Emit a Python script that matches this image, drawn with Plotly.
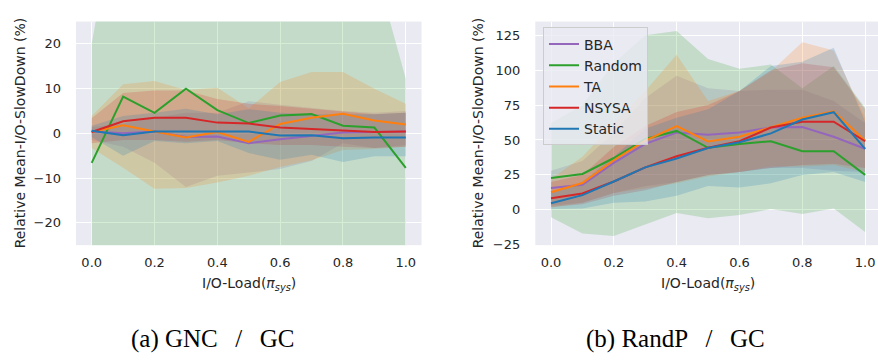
import plotly.graph_objects as go

X = [0.0, 0.1, 0.2, 0.3, 0.4, 0.5, 0.6, 0.7, 0.8, 0.9, 1.0]
SERIES = ["BBA", "Random", "TA", "NSYSA", "Static"]
COLORS = {"BBA": (148, 103, 189), "Random": (44, 160, 44), "TA": (255, 127, 14),
          "NSYSA": (214, 39, 40), "Static": (31, 119, 180)}

# (a) GNC / GC
gnc_bba_mean = [0.4, 0.0, 0.4, -0.8, -0.7, -2.2, -1.3, -0.5, 0.2, 0.3, 0.4]
gnc_bba_lo = [-1.5, -3.0, -6.6, -12.0, -9.5, -8.8, -8.0, -6.2, -2.2, -3.3, -2.6]
gnc_bba_hi = [1.4, 2.1, 3.5, 4.6, 4.6, 7.2, 6.4, 5.7, 5.0, 4.6, 5.0]
gnc_random_mean = [-6.6, 8.2, 4.6, 10.0, 5.2, 2.3, 4.0, 4.3, 1.7, 1.3, -7.7]
gnc_random_lo = [-60, -55, -50, -50, -50, -50, -50, -50, -50, -50, -45]
gnc_random_hi = [20.0, 60, 55, 55, 55, 55, 55, 55, 50, 37.6, 12.2]
gnc_ta_mean = [0.3, 1.8, 0.4, -0.9, 0.3, -1.9, 2.1, 3.5, 4.4, 2.9, 2.0]
gnc_ta_lo = [-3.3, -7.7, -12.4, -12.2, -11.0, -9.5, -7.5, -6.0, -3.7, -3.5, -3.0]
gnc_ta_hi = [3.9, 11.0, 11.7, 9.7, 10.2, 5.6, 11.5, 13.7, 13.7, 10.0, 6.6]
gnc_nsysa_mean = [0.3, 2.7, 3.5, 3.5, 2.4, 2.2, 1.3, 1.0, 0.6, 0.3, 0.4]
gnc_nsysa_lo = [-2.2, -1.5, -1.5, -1.9, -1.5, -2.2, -2.6, -2.6, -3.0, -3.3, -3.0]
gnc_nsysa_hi = [3.4, 9.0, 9.6, 9.6, 7.7, 6.6, 6.1, 5.5, 5.0, 4.3, 4.6]
gnc_static_mean = [0.6, -0.4, 0.4, 0.4, 0.4, 0.4, -0.5, -0.4, -1.1, -0.9, -0.9]
gnc_static_lo = [-0.8, -5.0, -1.7, -2.2, -1.7, -4.4, -5.9, -4.8, -6.4, -5.1, -5.1]
gnc_static_hi = [1.7, 3.9, 4.6, 5.5, 4.3, 5.4, 4.6, 4.3, 4.3, 4.3, 4.6]

# (b) RandP / GC
randp_bba_mean = [15.7, 18.0, 33.6, 47.2, 55.4, 53.7, 55.4, 58.9, 59.3, 52.3, 43.7]
randp_bba_lo = [3, 5, 12, 17, 20, 25, 27, 30, 30, 28, 27]
randp_bba_hi = [28, 35, 55, 80, 96, 87, 85, 86, 86, 78, 62]
randp_random_mean = [22.7, 25.7, 37.1, 50.7, 56.5, 44.4, 47.2, 49.1, 42.0, 42.0, 25.0]
randp_random_lo = [-5.4, -17, -18.7, -10.7, -2.3, -6, -3.7, 0.5, -3, 1, -15.9]
randp_random_hi = [62, 75, 105, 125, 128, 108, 101, 104, 87, 103, 73]
randp_ta_mean = [12.6, 19.2, 35.5, 49.5, 60.0, 49.0, 52.3, 59.3, 65.9, 70.6, 49.5]
randp_ta_lo = [1.6, 5, 12, 15.7, 19, 24, 27, 31, 31, 32, 27]
randp_ta_hi = [22, 38, 62, 85, 111, 78, 85, 99, 120, 114, 66]
randp_nsysa_mean = [8.2, 11.7, 20.3, 30.4, 38.3, 44.4, 49.1, 58.9, 63.1, 63.1, 49.1]
randp_nsysa_lo = [2, 4, 10, 14, 20, 25, 27, 30, 32, 33, 30]
randp_nsysa_hi = [20, 25, 45, 60, 70, 75, 85, 100, 105, 102, 72]
randp_static_mean = [4.7, 10.5, 20.3, 30.4, 36.7, 44.2, 48.4, 54.7, 64.7, 69.9, 43.7]
randp_static_lo = [0.5, 1, 5, 6, 10, 17, 16, 19, 25, 27, 20]
randp_static_hi = [12, 20, 38, 58, 66, 72, 85, 103, 106, 116, 63]

X_TICKS = [0.0, 0.2, 0.4, 0.6, 0.8, 1.0]
GNC_Y_TICKS = [-20, -10, 0, 10, 20]
RANDP_Y_TICKS = [-25, 0, 25, 50, 75, 100, 125]

gnc = {
    "BBA": (gnc_bba_mean, gnc_bba_lo, gnc_bba_hi),
    "Random": (gnc_random_mean, gnc_random_lo, gnc_random_hi),
    "TA": (gnc_ta_mean, gnc_ta_lo, gnc_ta_hi),
    "NSYSA": (gnc_nsysa_mean, gnc_nsysa_lo, gnc_nsysa_hi),
    "Static": (gnc_static_mean, gnc_static_lo, gnc_static_hi),
}
randp = {
    "BBA": (randp_bba_mean, randp_bba_lo, randp_bba_hi),
    "Random": (randp_random_mean, randp_random_lo, randp_random_hi),
    "TA": (randp_ta_mean, randp_ta_lo, randp_ta_hi),
    "NSYSA": (randp_nsysa_mean, randp_nsysa_lo, randp_nsysa_hi),
    "Static": (randp_static_mean, randp_static_lo, randp_static_hi),
}

W, H = 878, 360
TXT = "#262626"
BG = "#EAEAF2"

fig = go.Figure()


def add_panel(data, xa, ya, legend):
    for name in SERIES:
        mean, lo, hi = data[name]
        r, g, b = COLORS[name]
        fig.add_trace(go.Scatter(x=X, y=hi, mode="lines", line=dict(width=0),
                                 xaxis=xa, yaxis=ya, showlegend=False, hoverinfo="skip"))
        fig.add_trace(go.Scatter(x=X, y=lo, mode="lines", line=dict(width=0),
                                 fill="tonexty", fillcolor=f"rgba({r},{g},{b},0.2)",
                                 xaxis=xa, yaxis=ya, showlegend=False, hoverinfo="skip"))
    for name in SERIES:
        mean, lo, hi = data[name]
        r, g, b = COLORS[name]
        fig.add_trace(go.Scatter(x=X, y=mean, mode="lines", name=name, legendgroup=name,
                                 line=dict(color=f"rgb({r},{g},{b})", width=2),
                                 xaxis=xa, yaxis=ya, showlegend=legend))


add_panel(gnc, "x", "y", False)
add_panel(randp, "x2", "y2", True)

axis_common = dict(showgrid=True, gridcolor="white", gridwidth=1, zeroline=False,
                   showline=False, ticks="", ticklabeloverflow="allow",
                   tickfont=dict(family="DejaVu Sans", size=13, color=TXT))

fig.update_layout(
    width=W, height=H, margin=dict(l=0, r=0, t=0, b=0),
    paper_bgcolor="white", plot_bgcolor=BG,
    xaxis=dict(domain=[76 / W, 421.5 / W], range=[-0.05, 1.05], tickvals=X_TICKS,
               ticktext=[f"{v:.1f}" for v in X_TICKS], anchor="y", ticklabelstandoff=8, **axis_common),
    yaxis=dict(domain=[1 - 250 / H, 1 - 22 / H], range=[-25, 25], tickvals=GNC_Y_TICKS,
               anchor="x", ticklabelstandoff=14, **axis_common),
    xaxis2=dict(domain=[535.3 / W, 1.0], range=[-0.05, 1.041], tickvals=X_TICKS,
                ticktext=[f"{v:.1f}" for v in X_TICKS], anchor="y2", ticklabelstandoff=8, **axis_common),
    yaxis2=dict(domain=[1 - 250 / H, 1 - 22 / H], range=[-25.3, 134.8], tickvals=RANDP_Y_TICKS,
                anchor="x2", ticklabelstandoff=14, **axis_common),
    legend=dict(x=543 / W, y=1 - 28 / H, xanchor="left", yanchor="top", traceorder="normal",
                tracegroupgap=3,
                bgcolor="rgba(234,234,242,0.8)", bordercolor="#CCCCCC", borderwidth=1,
                font=dict(family="DejaVu Sans", size=14, color=TXT)),
    showlegend=True,
)

ytitle = "Relative Mean-I/O-SlowDown (%)"
xtitle = "I/O-Load(<i>π</i><sub><i>sys</i></sub>)"
title_font = dict(family="DejaVu Sans", size=14, color=TXT)
cap_font = dict(family="Liberation Serif", size=25, color="black")

annotations = [
    dict(text=ytitle, x=20 / W, y=1 - 136 / H, textangle=-90),
    dict(text=ytitle, x=478 / W, y=1 - 136 / H, textangle=-90),
    dict(text=xtitle, x=248.5 / W, y=1 - 290 / H),
    dict(text=xtitle, x=708 / W, y=1 - 290 / H),
]
for a in annotations:
    fig.add_annotation(xref="paper", yref="paper", showarrow=False, font=title_font,
                       xanchor="center", yanchor="middle", **a)

SEP = "\u2002\u2009/\u2009\u2002"
fig.add_annotation(text="(a) GNC" + SEP + "GC", x=212 / W, y=1 - 346 / H, xref="paper", yref="paper",
                   showarrow=False, font=cap_font, xanchor="center", yanchor="middle")
fig.add_annotation(text="(b) RandP" + SEP + "GC", x=675 / W, y=1 - 346 / H, xref="paper", yref="paper",
                   showarrow=False, font=cap_font, xanchor="center", yanchor="middle")

fig.write_html("out.html", config={"displayModeBar": False, "staticPlot": True},
               post_script="document.body.style.margin='0';document.body.style.overflow='hidden';")
